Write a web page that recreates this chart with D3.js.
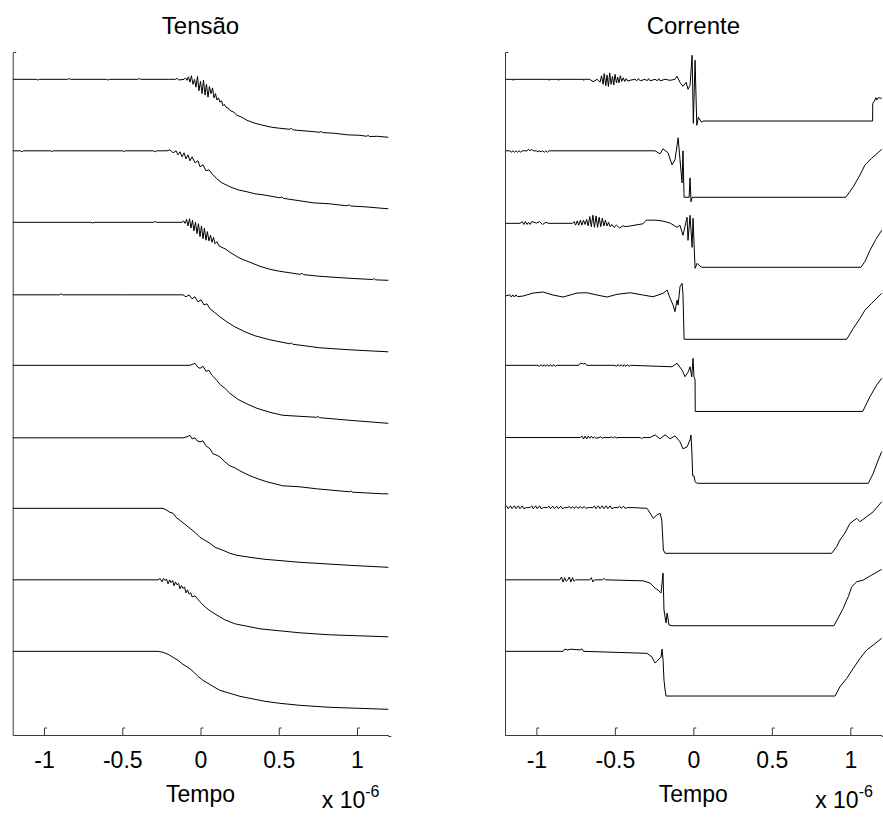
<!DOCTYPE html>
<html>
<head>
<meta charset="utf-8">
<script src="https://cdn.jsdelivr.net/npm/d3@7"></script>
<style>
  body { margin: 0; background: #fff; }
  svg { display: block; }
  text { font-family: Arial, "Liberation Sans", sans-serif; fill: #000; }
</style>
</head>
<body>
<svg id="chart" width="883" height="819"></svg>
<script>
// Time axis (microseconds, labelled as x 10^-6 s)
const timeDomain = [-1.2, 1.2];
const timeTicks = [-1, -0.5, 0, 0.5, 1];
// Vertical stacking: each record is shifted by an integer offset (top record = 8)
const traceOffsets = [8, 7, 6, 5, 4, 3, 2, 1, 0];
const valueDomain = [-0.17, 9.375];

// ---- Tensão records: [time (us), normalised voltage] ----
const tensao1 = [[-1.2,1],[-1.05,1],[-1.04,0.99],[-1.03,1],[-0.85,1],[-0.84,1.01],[-0.83,1],[-0.6,1],[-0.59,0.99],[-0.58,1],[-0.4,1],[-0.39,1.01],[-0.38,1],[-0.2,1],[-0.16,1.0],[-0.15,1.015],[-0.14,0.99],[-0.105,1.0],[-0.096,1.02],[-0.086,0.985],[-0.077,1.035],[-0.067,0.96],[-0.058,1.05],[-0.048,0.93],[-0.038,1.0],[-0.029,0.89],[-0.019,1.04],[-0.010,0.84],[0.0,0.97],[0.010,0.80],[0.019,0.99],[0.029,0.78],[0.038,0.93],[0.048,0.75],[0.057,0.90],[0.067,0.80],[0.077,0.88],[0.086,0.74],[0.096,0.80],[0.105,0.71],[0.115,0.74],[0.124,0.68],[0.134,0.70],[0.144,0.63],[0.153,0.65],[0.163,0.61],[0.175,0.60],[0.188,0.566],[0.214,0.538],[0.233,0.497],[0.265,0.469],[0.297,0.427],[0.348,0.385],[0.399,0.357],[0.456,0.329],[0.507,0.315],[0.571,0.301],[0.58,0.315],[0.59,0.295],[0.616,0.287],[0.699,0.273],[0.763,0.259],[0.77,0.272],[0.78,0.255],[0.858,0.245],[0.935,0.224],[1.018,0.217],[1.063,0.203],[1.07,0.218],[1.08,0.2],[1.133,0.203],[1.2,0.189]];
const tensao2 = [[-1.2,1],[-1.15,1],[-1.14,0.985],[-1.13,1],[-0.96,1],[-0.95,0.99],[-0.94,1],[-0.5,1],[-0.49,0.99],[-0.48,1],[-0.3,1],[-0.29,0.985],[-0.28,1],[-0.214,1.0],[-0.195,1.014],[-0.175,0.972],[-0.156,1.0],[-0.144,0.944],[-0.131,0.986],[-0.118,0.916],[-0.105,0.972],[-0.093,0.888],[-0.080,0.944],[-0.067,0.860],[-0.054,0.916],[-0.035,0.832],[-0.016,0.860],[-0.003,0.776],[0.016,0.804],[0.035,0.720],[0.054,0.734],[0.080,0.664],[0.105,0.608],[0.137,0.552],[0.188,0.497],[0.239,0.455],[0.297,0.427],[0.348,0.399],[0.399,0.385],[0.507,0.343],[0.52,0.355],[0.53,0.335],[0.635,0.301],[0.718,0.273],[0.826,0.259],[0.935,0.231],[0.95,0.245],[0.96,0.228],[1.050,0.217],[1.2,0.189]];
const tensao3 = [[-1.2,1],[-0.7,1],[-0.69,0.99],[-0.68,1],[-0.3,1],[-0.29,1.01],[-0.28,1],[-0.118,1.0],[-0.108,1.02],[-0.099,0.985],[-0.089,1.04],[-0.080,0.95],[-0.070,1.05],[-0.061,0.92],[-0.051,1.03],[-0.042,0.88],[-0.032,1.0],[-0.022,0.84],[-0.013,0.98],[-0.003,0.80],[0.006,0.95],[0.016,0.77],[0.025,0.92],[0.035,0.75],[0.044,0.87],[0.054,0.74],[0.064,0.82],[0.073,0.72],[0.083,0.79],[0.093,0.70],[0.105,0.73],[0.118,0.67],[0.137,0.650],[0.163,0.622],[0.188,0.580],[0.252,0.497],[0.316,0.441],[0.380,0.385],[0.444,0.343],[0.507,0.315],[0.635,0.273],[0.65,0.285],[0.66,0.268],[0.763,0.245],[0.954,0.217],[1.1,0.2],[1.11,0.213],[1.12,0.195],[1.2,0.189]];
const tensao4 = [[-1.2,0.986],[-0.9,0.986],[-0.89,1.0],[-0.88,0.986],[-0.5,0.986],[-0.112,0.986],[-0.093,0.958],[-0.073,0.986],[-0.054,0.930],[-0.035,0.958],[-0.016,0.888],[0.003,0.916],[0.022,0.846],[0.041,0.860],[0.061,0.790],[0.093,0.734],[0.124,0.678],[0.169,0.608],[0.220,0.538],[0.284,0.469],[0.348,0.413],[0.444,0.357],[0.571,0.301],[0.58,0.315],[0.59,0.295],[0.763,0.245],[0.954,0.217],[1.2,0.189]];
const tensao5 = [[-1.2,1],[-0.067,1.0],[-0.035,1.028],[-0.016,0.972],[-0.003,0.958],[0.016,0.986],[0.035,0.916],[0.054,0.930],[0.073,0.860],[0.099,0.804],[0.124,0.734],[0.156,0.678],[0.188,0.608],[0.239,0.524],[0.316,0.441],[0.361,0.399],[0.444,0.343],[0.526,0.301],[0.743,0.273],[0.75,0.287],[0.76,0.268],[0.954,0.231],[1.2,0.189]];
const tensao6 = [[-1.2,0.986],[-0.112,0.986],[-0.086,1.0],[-0.067,1.021],[-0.054,0.972],[-0.035,0.986],[-0.022,0.944],[-0.003,0.930],[0.016,0.944],[0.035,0.874],[0.061,0.832],[0.080,0.762],[0.099,0.748],[0.124,0.720],[0.156,0.650],[0.188,0.594],[0.220,0.566],[0.252,0.524],[0.316,0.455],[0.367,0.413],[0.424,0.371],[0.526,0.315],[0.635,0.301],[0.743,0.273],[0.954,0.231],[0.96,0.245],[0.97,0.226],[1.165,0.203],[1.2,0.203]];
const tensao7 = [[-1.2,1],[-0.258,1],[-0.239,1.0],[-0.214,0.972],[-0.195,0.944],[-0.175,0.930],[-0.156,0.874],[-0.131,0.832],[-0.099,0.776],[-0.067,0.720],[-0.035,0.664],[-0.003,0.594],[0.029,0.552],[0.061,0.510],[0.093,0.455],[0.144,0.413],[0.188,0.371],[0.233,0.343],[0.316,0.315],[0.412,0.287],[0.488,0.273],[0.635,0.245],[0.743,0.231],[0.954,0.203],[1.2,0.175]];
const tensao8 = [[-1.2,1],[-0.271,1.0],[-0.258,1.02],[-0.246,0.972],[-0.236,1.02],[-0.227,0.99],[-0.217,1.01],[-0.207,0.944],[-0.197,1.0],[-0.188,0.96],[-0.178,0.99],[-0.169,0.916],[-0.160,0.97],[-0.150,0.93],[-0.140,0.95],[-0.131,0.874],[-0.122,0.92],[-0.112,0.88],[-0.102,0.9],[-0.093,0.818],[-0.083,0.86],[-0.073,0.8],[-0.063,0.82],[-0.054,0.762],[-0.035,0.776],[-0.003,0.692],[0.029,0.622],[0.061,0.566],[0.112,0.497],[0.156,0.441],[0.220,0.385],[0.284,0.357],[0.380,0.315],[0.507,0.287],[0.635,0.259],[0.826,0.231],[1.018,0.217],[1.2,0.203]];
const tensao9 = [[-1.2,1],[-0.271,1.0],[-0.239,0.986],[-0.207,0.958],[-0.175,0.916],[-0.144,0.874],[-0.112,0.818],[-0.080,0.776],[-0.048,0.720],[-0.016,0.650],[0.016,0.594],[0.048,0.552],[0.080,0.510],[0.124,0.455],[0.188,0.413],[0.252,0.371],[0.316,0.343],[0.412,0.301],[0.507,0.273],[0.635,0.245],[0.826,0.217],[1.018,0.203],[1.2,0.189]];

// ---- Corrente records: [time (us), normalised current] ----
const corrente1 = [[-1.2,1],[-1.15,1],[-1.148,0.985],[-1.145,1],[-0.92,1],[-0.918,0.985],[-0.915,1],[-0.86,1],[-0.858,0.985],[-0.855,1],[-0.7,1],[-0.698,0.985],[-0.695,1],[-0.66,1],[-0.639,0.966],[-0.613,1.0],[-0.594,0.96],[-0.585,1.05],[-0.575,0.93],[-0.568,1.08],[-0.558,0.91],[-0.550,1.06],[-0.541,0.90],[-0.533,1.09],[-0.524,0.93],[-0.515,1.04],[-0.507,0.92],[-0.499,1.07],[-0.490,0.95],[-0.482,1.03],[-0.474,0.95],[-0.465,1.05],[-0.456,0.97],[-0.447,1.02],[-0.437,0.97],[-0.428,1.01],[-0.418,0.975],[-0.397,0.99],[-0.371,1.0],[-0.36,0.98],[-0.35,1.01],[-0.339,0.979],[-0.308,1.0],[-0.295,0.98],[-0.285,1.01],[-0.276,0.979],[-0.244,1.0],[-0.23,0.98],[-0.22,1.01],[-0.212,0.979],[-0.180,1.0],[-0.148,0.986],[-0.117,1.0],[-0.104,1.042],[-0.085,0.958],[-0.066,0.902],[-0.046,0.958],[-0.034,0.860],[-0.021,0.916],[-0.008,1.336],[0.000,0.385],[0.011,1.266],[0.022,0.357],[0.032,0.469],[0.053,0.399],[0.062,0.417],[1.142,0.417],[1.143,0.664],[1.151,0.687],[1.163,0.743],[1.168,0.710],[1.178,0.743],[1.2,0.734]];
const corrente2 = [[-1.2,1],[-1.17,1],[-1.16,0.98],[-1.15,1.0],[-1.14,0.98],[-1.13,1.0],[-1.12,0.98],[-1.11,1.0],[-1.10,0.98],[-1.09,1.0],[-1.06,1.0],[-1.05,1.02],[-1.04,1.0],[-1.03,1.02],[-1.02,1.0],[-1.0,1.0],[-0.99,0.985],[-0.98,1.0],[-0.97,0.985],[-0.96,1.0],[-0.95,0.98],[-0.94,1.0],[-0.93,0.98],[-0.92,1.0],[-0.244,1.0],[-0.212,0.958],[-0.193,1.028],[-0.161,0.972],[-0.136,0.804],[-0.117,0.874],[-0.097,1.182],[-0.085,0.874],[-0.072,0.552],[-0.066,1.0],[-0.059,0.350],[-0.027,0.350],[-0.021,0.622],[-0.015,0.287],[-0.008,0.350],[0.971,0.350],[1.019,0.497],[1.062,0.664],[1.094,0.804],[1.136,0.895],[1.2,1.021]];
const corrente3 = [[-1.2,0.986],[-1.104,0.986],[-1.09,1.01],[-1.08,0.97],[-1.07,1.01],[-1.06,0.97],[-1.05,1.0],[-1.04,0.97],[-1.03,1.01],[-1.0,0.99],[-0.98,1.01],[-0.96,0.97],[-0.94,1.0],[-0.92,0.985],[-0.90,0.986],[-0.77,0.986],[-0.76,1.01],[-0.75,0.96],[-0.74,1.02],[-0.73,0.96],[-0.72,1.03],[-0.71,0.96],[-0.70,1.03],[-0.69,0.97],[-0.68,1.04],[-0.67,0.95],[-0.66,1.08],[-0.65,0.94],[-0.64,1.10],[-0.63,0.93],[-0.62,1.09],[-0.61,0.93],[-0.60,1.07],[-0.59,0.94],[-0.58,1.06],[-0.57,0.95],[-0.56,1.03],[-0.55,0.95],[-0.54,1.0],[-0.53,0.94],[-0.52,0.97],[-0.505,0.93],[-0.49,0.96],[-0.47,0.92],[-0.45,0.95],[-0.43,0.94],[-0.40,0.95],[-0.32,0.98],[-0.30,1.03],[-0.24,1.03],[-0.20,1.02],[-0.148,0.99],[-0.104,0.93],[-0.085,0.958],[-0.066,0.818],[-0.040,1.070],[-0.034,0.748],[-0.021,1.098],[-0.008,0.650],[-0.002,1.056],[0.011,0.357],[0.024,0.427],[0.043,0.385],[0.055,0.371],[1.068,0.371],[1.094,0.455],[1.125,0.608],[1.163,0.762],[1.2,0.888]];
const corrente4 = [[-1.2,0.969],[-1.17,0.985],[-1.16,0.955],[-1.15,0.985],[-1.14,0.955],[-1.13,0.985],[-1.12,0.96],[-1.085,0.969],[-1.021,1.011],[-0.957,1.025],[-0.894,0.983],[-0.830,0.955],[-0.741,1.011],[-0.677,1.015],[-0.613,0.983],[-0.550,0.955],[-0.486,0.993],[-0.403,1.015],[-0.320,0.983],[-0.257,0.959],[-0.193,1.007],[-0.167,1.053],[-0.148,0.937],[-0.129,0.843],[-0.117,0.750],[-0.104,0.913],[-0.097,0.843],[-0.085,1.099],[-0.072,1.147],[-0.066,0.993],[-0.059,0.364],[0.977,0.364],[1.019,0.517],[1.062,0.657],[1.094,0.773],[1.136,0.867],[1.2,1.007]];
const corrente5 = [[-1.2,1],[-0.99,1],[-0.98,0.985],[-0.97,1.01],[-0.96,0.985],[-0.95,1.01],[-0.94,0.985],[-0.93,1.01],[-0.92,0.985],[-0.91,1.01],[-0.90,0.985],[-0.89,1.01],[-0.88,0.985],[-0.87,1.0],[-0.73,1.0],[-0.72,1.03],[-0.70,1.02],[-0.69,1.03],[-0.68,1.0],[-0.50,1.0],[-0.49,0.985],[-0.48,1.01],[-0.47,0.985],[-0.46,1.01],[-0.45,0.985],[-0.44,1.01],[-0.43,0.985],[-0.42,1.01],[-0.41,0.985],[-0.40,1.0],[-0.136,0.98],[-0.104,1.028],[-0.072,0.934],[-0.053,0.841],[-0.032,0.911],[-0.021,0.98],[-0.010,0.84],[-0.002,1.098],[0.004,0.84],[0.011,0.794],[0.012,0.355],[1.079,0.355],[1.125,0.561],[1.168,0.724],[1.2,0.818]];
const corrente6 = [[-1.2,0.99],[-0.72,0.99],[-0.71,1.01],[-0.70,0.97],[-0.69,1.01],[-0.68,0.97],[-0.67,1.01],[-0.66,0.98],[-0.65,1.01],[-0.64,0.98],[-0.63,1.0],[-0.62,0.98],[-0.60,0.99],[-0.59,1.0],[-0.58,0.98],[-0.57,0.99],[-0.53,0.99],[-0.52,1.0],[-0.51,0.985],[-0.50,1.0],[-0.49,0.985],[-0.48,0.99],[-0.339,0.99],[-0.33,0.975],[-0.32,0.99],[-0.276,0.99],[-0.244,1.028],[-0.212,0.972],[-0.180,1.028],[-0.148,0.972],[-0.117,1.014],[-0.085,0.930],[-0.066,0.832],[-0.040,0.860],[-0.021,0.958],[-0.015,1.025],[-0.010,0.816],[-0.004,0.453],[0.005,0.45],[0.011,0.373],[0.024,0.35],[1.115,0.35],[1.146,0.490],[1.178,0.676],[1.2,0.792]];
const corrente7 = [[-1.2,1.01],[-1.19,1.035],[-1.18,0.995],[-1.165,1.035],[-1.155,0.995],[-1.14,1.035],[-1.13,0.995],[-1.115,1.035],[-1.105,0.995],[-1.09,1.035],[-1.08,0.995],[-1.065,1.01],[-1.04,1.01],[-1.03,1.035],[-1.02,0.995],[-1.005,1.035],[-0.995,0.995],[-0.98,1.035],[-0.97,0.995],[-0.955,1.01],[-0.93,1.01],[-0.92,1.03],[-0.91,0.995],[-0.895,1.03],[-0.885,0.995],[-0.87,1.03],[-0.86,0.995],[-0.845,1.03],[-0.835,0.995],[-0.82,1.01],[-0.80,1.01],[-0.79,1.025],[-0.78,1.0],[-0.77,1.025],[-0.76,1.0],[-0.745,1.025],[-0.735,1.0],[-0.72,1.025],[-0.71,1.0],[-0.695,1.025],[-0.685,1.0],[-0.67,1.01],[-0.64,1.01],[-0.63,1.035],[-0.62,0.995],[-0.605,1.035],[-0.595,0.995],[-0.58,1.035],[-0.57,0.995],[-0.555,1.035],[-0.545,0.995],[-0.53,1.035],[-0.52,0.995],[-0.505,1.01],[-0.48,1.01],[-0.47,1.03],[-0.46,1.0],[-0.445,1.03],[-0.435,1.0],[-0.42,1.01],[-0.384,1.01],[-0.295,1.0],[-0.255,0.860],[-0.233,0.906],[-0.212,0.930],[-0.201,0.836],[-0.191,0.417],[-0.180,0.371],[0.881,0.371],[0.913,0.463],[0.934,0.557],[0.966,0.655],[0.998,0.790],[1.041,0.860],[1.062,0.813],[1.104,0.883],[1.146,0.952],[1.2,1.092]];
const corrente8 = [[-1.2,1],[-0.85,1.0],[-0.84,1.04],[-0.83,0.97],[-0.82,1.03],[-0.81,0.98],[-0.80,1.0],[-0.79,1.04],[-0.78,0.97],[-0.77,1.03],[-0.76,0.98],[-0.75,1.0],[-0.74,1.0],[-0.66,1.0],[-0.65,1.03],[-0.64,0.97],[-0.63,1.0],[-0.58,1.0],[-0.57,1.02],[-0.56,1.0],[-0.320,0.986],[-0.276,0.955],[-0.244,0.885],[-0.225,0.857],[-0.206,0.815],[-0.193,1.095],[-0.187,0.578],[-0.174,0.396],[-0.167,0.536],[-0.155,0.368],[-0.136,0.358],[0.896,0.358],[0.955,0.601],[0.977,0.717],[0.987,0.763],[1.009,0.903],[1.041,0.973],[1.083,0.997],[1.136,1.067],[1.2,1.147]];
const corrente9 = [[-1.2,1],[-0.83,1.0],[-0.82,1.03],[-0.80,1.02],[-0.78,1.03],[-0.72,1.02],[-0.71,1.035],[-0.70,1.0],[-0.295,0.972],[-0.263,0.920],[-0.244,0.836],[-0.225,0.878],[-0.206,0.920],[-0.199,1.032],[-0.193,0.878],[-0.187,0.599],[-0.180,0.459],[-0.174,0.375],[0.903,0.375],[0.934,0.505],[0.977,0.622],[1.019,0.762],[1.062,0.902],[1.104,1.018],[1.146,1.088],[1.2,1.182]];

const panels = [
  { title: "Tensão",   records: [tensao1, tensao2, tensao3, tensao4, tensao5, tensao6, tensao7, tensao8, tensao9], left: 12.7, right: 388.3 },
  { title: "Corrente", records: [corrente1, corrente2, corrente3, corrente4, corrente5, corrente6, corrente7, corrente8, corrente9], left: 505, right: 881.7 }
];

const svg = d3.select("#chart");
const plotTop = 52.5, plotBottom = 735;
const axisColor = "#3a3a3a";
const fontSize = 23;

panels.forEach(p => {
  const x = d3.scaleLinear().domain(timeDomain).range([p.left, p.right]);
  const y = d3.scaleLinear().domain(valueDomain).range([plotBottom, plotTop]);
  const g = svg.append("g");
  const cx = (p.left + p.right) / 2;

  // records
  p.records.forEach((rec, i) => {
    const off = traceOffsets[i];
    const line = d3.line().x(d => x(d[0])).y(d => y(d[1] + off));
    g.append("path")
      .attr("d", line(rec))
      .attr("fill", "none")
      .attr("stroke", "#000")
      .attr("stroke-width", 1);
  });

  // x axis with inward ticks
  const xAxis = d3.axisBottom(x)
    .tickValues(timeTicks)
    .tickFormat(d => String(d))
    .tickSizeInner(-7)
    .tickSizeOuter(0)
    .tickPadding(16.7);
  const ax = g.append("g").attr("transform", `translate(0,${plotBottom})`).call(xAxis);
  ax.select(".domain").attr("stroke", axisColor);
  ax.selectAll(".tick line").attr("stroke", axisColor);
  ax.selectAll(".tick").append("path").attr("d", "M0,-7h2.5").attr("stroke", axisColor).attr("fill", "none");
  ax.selectAll(".tick text").attr("font-size", fontSize).attr("font-family", "Arial, 'Liberation Sans', sans-serif").attr("fill", "#000");
  ax.append("path").attr("d", `M${p.right},1.5h3`).attr("stroke", axisColor);

  // y axis (no labels), inward top tick
  const yAxis = d3.axisLeft(y).tickValues([]).tickSizeOuter(0);
  const ay = g.append("g").attr("transform", `translate(${p.left},0)`).call(yAxis);
  ay.select(".domain").attr("stroke", axisColor);
  ay.append("path").attr("d", `M0.5,${plotTop}h3`).attr("stroke", axisColor);

  // title
  g.append("text")
    .attr("x", cx).attr("y", 34)
    .attr("text-anchor", "middle")
    .attr("font-size", 24)
    .text(p.title);

  // axis label
  g.append("text")
    .attr("x", cx).attr("y", 802)
    .attr("text-anchor", "middle")
    .attr("font-size", fontSize)
    .text("Tempo");

  // exponent note
  const ex = g.append("text")
    .attr("x", p.right - 66.5).attr("y", 808)
    .attr("font-size", fontSize);
  ex.append("tspan").text("x 10");
  ex.append("tspan").attr("dy", -11).attr("font-size", 16).text("-6");
});
</script>
</body>
</html>
